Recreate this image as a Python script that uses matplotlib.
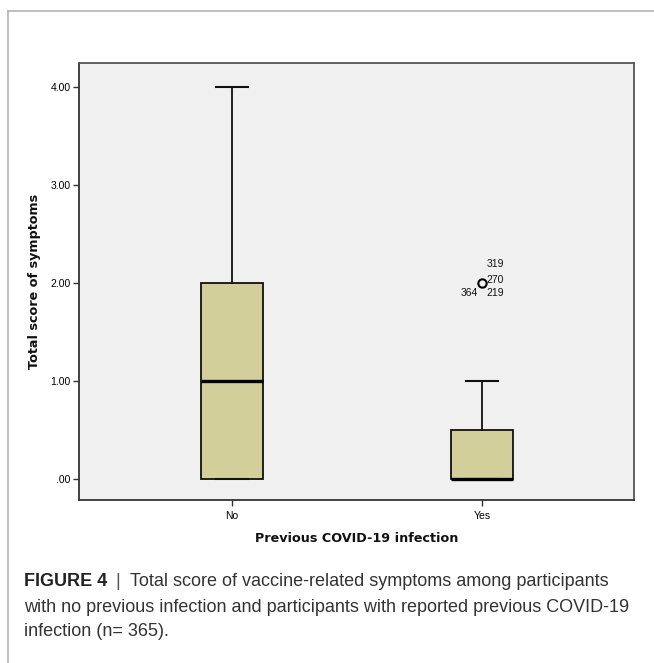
import matplotlib
matplotlib.use("Agg")
import matplotlib.pyplot as plt
from matplotlib.lines import Line2D

categories = ["No", "Yes"]
whisker_low = [0.0, 0.0]
q1 = [0.0, 0.0]
median = [1.0, 0.0]
q3 = [2.0, 0.5]
whisker_high = [4.0, 1.0]
outliers = [[], [2.0]]
outlier_ids = ["319", "270", "364", "219"]
y_ticks = [0, 1, 2, 3, 4]
y_tick_labels = [".00", "1.00", "2.00", "3.00", "4.00"]

W, H = 654, 663
fig = plt.figure(figsize=(W / 100, H / 100), dpi=100)
fig.patch.set_facecolor("white")

# frame lines around the figure panel
fig.add_artist(Line2D([8 / W, 1.0], [1 - 11 / H, 1 - 11 / H], color="#b4b4b4", lw=1.2))
fig.add_artist(Line2D([8 / W, 8 / W], [0, 1 - 11 / H], color="#b4b4b4", lw=1.2))

ax_l, ax_r, ax_t, ax_b = 79, 634, 63, 500
ax = fig.add_axes([ax_l / W, 1 - ax_b / H, (ax_r - ax_l) / W, (ax_b - ax_t) / H])
ax.set_facecolor("#f0f0f0")

stats = []
for i, c in enumerate(categories):
    stats.append(dict(label=c, whislo=whisker_low[i], q1=q1[i], med=median[i],
                      q3=q3[i], whishi=whisker_high[i], fliers=outliers[i]))

positions = [1, 2]
ax.bxp(stats, positions=positions, widths=0.248, patch_artist=True,
       boxprops=dict(facecolor="#d3cf9a", edgecolor="#111111", linewidth=1.3),
       medianprops=dict(color="black", linewidth=2.4),
       whiskerprops=dict(color="#111111", linewidth=1.3),
       capprops=dict(color="#111111", linewidth=1.5),
       capwidths=0.126,
       flierprops=dict(marker="o", markerfacecolor="none", markeredgecolor="black",
                       markersize=6, markeredgewidth=1.5))

# outlier case labels
fx, fy = positions[1], outliers[1][0]
lbl_kw = dict(fontsize=7.5, color="#111111", family=["Liberation Sans", "DejaVu Sans"])
ax.annotate(outlier_ids[0], (fx, fy), xytext=(3, 14), textcoords="offset points",
            ha="left", va="center", **lbl_kw)
ax.annotate(outlier_ids[1], (fx, fy), xytext=(3, 2), textcoords="offset points",
            ha="left", va="center", **lbl_kw)
ax.annotate(outlier_ids[2], (fx, fy), xytext=(-3, -7.5), textcoords="offset points",
            ha="right", va="center", **lbl_kw)
ax.annotate(outlier_ids[3], (fx, fy), xytext=(3, -7.5), textcoords="offset points",
            ha="left", va="center", **lbl_kw)

ax.set_xlim(0.388, 2.608)
ax.set_ylim(-0.214, 4.245)
ax.set_yticks(y_ticks)
ax.set_yticklabels(y_tick_labels)
ax.set_xticks(positions)
ax.set_xticklabels(categories)
ax.tick_params(axis="both", direction="out", length=4, width=1, color="#333333",
               labelsize=7.5, pad=2)
ax.tick_params(axis="x", pad=4)
for lab in ax.get_xticklabels() + ax.get_yticklabels():
    lab.set_family(["Liberation Sans", "DejaVu Sans"])

for s in ["left", "bottom"]:
    ax.spines[s].set_color("#333333")
    ax.spines[s].set_linewidth(1.3)
for s in ["top", "right"]:
    ax.spines[s].set_color("#555555")
    ax.spines[s].set_linewidth(1.3)

lab_fam = ["DejaVu Sans"]
fig.text(35 / W, 1 - 281 / H, "Total score of symptoms", rotation=90, fontsize=9.2,
         fontweight="bold", family=lab_fam, ha="center", va="center", color="#111111")
fig.text(357 / W, 1 - 539 / H, "Previous COVID-19 infection", fontsize=9.2,
         fontweight="bold", family=lab_fam, ha="center", va="center", color="#111111")

# caption
cap_fam = ["Liberation Sans", "DejaVu Sans"]
cs = 13
fig.text(24 / W, 1 - 582 / H, "FIGURE 4", fontsize=cs, fontweight="bold",
         family=cap_fam, va="center", ha="left", color="#222222")
fig.text(118 / W, 1 - 582 / H, "|", fontsize=cs, family=cap_fam, va="center",
         ha="center", color="#555555")
fig.text(130 / W, 1 - 582 / H, "Total score of vaccine-related symptoms among participants",
         fontsize=cs, family=cap_fam, va="center", ha="left", color="#333333")
fig.text(24 / W, 1 - 607 / H,
         "with no previous infection and participants with reported previous COVID-19",
         fontsize=cs, family=cap_fam, va="center", ha="left", color="#333333")
fig.text(24 / W, 1 - 632 / H, "infection (n= 365).", fontsize=cs, family=cap_fam,
         va="center", ha="left", color="#333333")

fig.savefig("out.png", dpi=100)
